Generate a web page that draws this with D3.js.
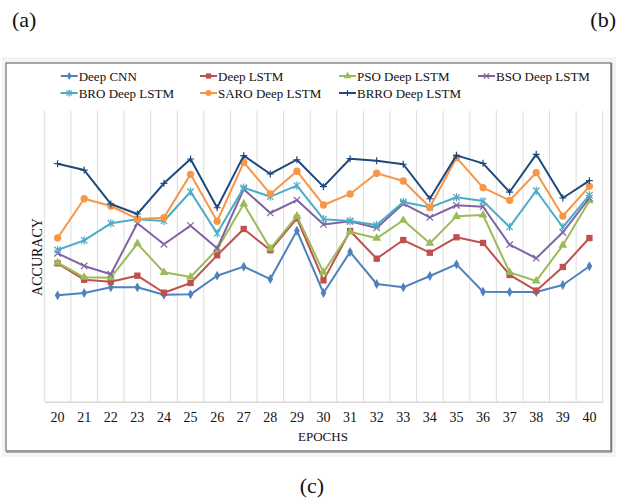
<!DOCTYPE html>
<html>
<head>
<meta charset="utf-8">
<script src="https://cdn.jsdelivr.net/npm/d3@7"></script>
<style>
  html, body { margin: 0; padding: 0; background: #fff; }
  svg { display: block; }
  text { font-family: "Liberation Serif", "Times New Roman", serif; fill: #111; }
</style>
</head>
<body>
<svg id="chart" width="617" height="502"></svg>
<script>
// Epoch categories along the x axis
const epochs = ["20","21","22","23","24","25","26","27","28","29","30",
                "31","32","33","34","35","36","37","38","39","40"];

// Accuracy (%) per epoch for each model
const deepCNN  = [87.31,87.47,87.86,87.86,87.35,87.38,88.66,89.28,88.43,91.75,87.47,
                  90.29,88.09,87.86,88.64,89.44,87.56,87.54,87.54,88.02,89.31];
const deepLSTM = [89.51,88.38,88.25,88.66,87.49,88.16,90.06,91.87,90.41,92.60,88.34,
                  91.73,89.83,91.11,90.24,91.30,90.91,88.71,87.63,89.26,91.25];
const psoLSTM  = [89.55,88.55,88.52,90.86,88.89,88.57,90.47,93.59,90.52,92.76,88.89,
                  91.68,91.23,92.47,90.89,92.74,92.83,88.89,88.30,90.75,93.81];
const bsoLSTM  = [90.20,89.33,88.76,92.26,90.82,92.10,90.54,94.60,92.97,93.86,92.18,
                  92.40,91.94,93.61,92.67,93.50,93.40,90.79,89.86,91.64,94.00];
const broLSTM  = [90.43,91.09,92.26,92.54,92.42,94.43,91.57,94.71,94.09,94.85,92.54,
                  92.42,92.14,93.73,93.36,94.05,93.79,92.01,94.50,91.99,94.19];
const saroLSTM = [91.25,93.95,93.45,92.56,92.65,95.63,92.40,96.45,94.28,95.84,93.52,
                  94.28,95.70,95.17,93.36,96.77,94.71,93.84,95.74,92.76,94.80];
const brroLSTM = [96.36,95.92,93.59,92.90,95.01,96.68,93.33,96.91,95.65,96.63,94.78,
                  96.70,96.56,96.32,93.95,96.93,96.38,94.41,97.00,94.00,95.19];

const seriesNames = ["Deep CNN","Deep LSTM","PSO Deep LSTM","BSO Deep LSTM",
                     "BRO Deep LSTM","SARO Deep LSTM","BRRO Deep LSTM"];
const seriesValues = [deepCNN, deepLSTM, psoLSTM, bsoLSTM, broLSTM, saroLSTM, brroLSTM];
const seriesColors = ["#4F81BD","#C0504D","#9BBB59","#8064A2","#4BACC6","#F79646","#1F497D"];
const seriesMarkers = ["diamond","square","triangle","times","asterisk","circle","plus"];

const svg = d3.select("#chart");

// Panel captions
svg.append("text").attr("x", 12).attr("y", 27).attr("font-size", 22).text("(a)");
svg.append("text").attr("x", 616).attr("y", 27).attr("font-size", 22)
   .attr("text-anchor", "end").text("(b)");
svg.append("text").attr("x", 312).attr("y", 493).attr("font-size", 22)
   .attr("text-anchor", "middle").text("(c)");

// Chart frame with a soft outer edge
svg.append("rect").attr("x", 2).attr("y", 57).attr("width", 614).attr("height", 400)
   .attr("fill", "#f4f4f4");
svg.append("rect").attr("x", 6).attr("y", 63).attr("width", 605).attr("height", 388)
   .attr("fill", "#fff").attr("stroke", "#555").attr("stroke-width", 1);
svg.append("line").attr("x1", 6).attr("x2", 612).attr("y1", 451.5).attr("y2", 451.5)
   .attr("stroke", "#999").attr("stroke-width", 2.5);
svg.append("line").attr("x1", 611.5).attr("x2", 611.5).attr("y1", 63).attr("y2", 452)
   .attr("stroke", "#777").attr("stroke-width", 1.5);

// Plot area
const plotLeft = 44.3, plotRight = 602.7, plotTop = 110.7, plotBottom = 401.7;
const x = d3.scaleBand().domain(epochs).range([plotLeft, plotRight]).padding(0);
const y = d3.scaleLinear().domain([80, 100]).range([plotBottom, plotTop]);

// Vertical gridlines at category boundaries
const gridG = svg.append("g");
const bounds = epochs.map(e => x(e)).concat([x(epochs[epochs.length - 1]) + x.bandwidth()]);
gridG.selectAll("line.grid").data(bounds).join("line")
  .attr("x1", d => d).attr("x2", d => d)
  .attr("y1", plotTop).attr("y2", plotBottom)
  .attr("stroke", "#dcdcdc").attr("stroke-width", 1);

// X axis
const xAxis = d3.axisBottom(x).tickSize(0).tickPadding(10);
const axG = svg.append("g").attr("transform", `translate(0,${plotBottom})`).call(xAxis);
axG.select(".domain").attr("stroke", "#d6d6d6").attr("stroke-width", 1.5);
axG.selectAll("text").attr("font-size", 14)
   .attr("font-family", "Liberation Serif, Times New Roman, serif").attr("fill", "#111");

// Axis titles
svg.append("text").attr("x", 323).attr("y", 441).attr("font-size", 13)
   .attr("text-anchor", "middle").text("EPOCHS");
svg.append("text").attr("transform", "translate(42,257) rotate(-90)")
   .attr("font-size", 14).attr("text-anchor", "middle").text("ACCURACY");

// Marker drawing
function drawMarker(g, type, color, scale) {
  const s = scale || 1;
  switch (type) {
    case "diamond":
      g.append("path").attr("d", d3.symbol().type(d3.symbolDiamond).size(28 * s)())
       .attr("fill", color);
      break;
    case "square":
      g.append("path").attr("d", d3.symbol().type(d3.symbolSquare).size(40 * s)())
       .attr("fill", color);
      break;
    case "triangle":
      g.append("path").attr("d", d3.symbol().type(d3.symbolTriangle).size(34 * s)())
       .attr("fill", color);
      break;
    case "circle":
      g.append("path").attr("d", d3.symbol().type(d3.symbolCircle).size(42 * s)())
       .attr("fill", color);
      break;
    case "times": {
      const r = 3.2 * Math.sqrt(s);
      g.append("path").attr("d", `M${-r},${-r}L${r},${r}M${-r},${r}L${r},${-r}`)
       .attr("stroke", color).attr("stroke-width", 1.2).attr("fill", "none");
      break;
    }
    case "asterisk": {
      const r = 3.2 * Math.sqrt(s);
      g.append("path").attr("d", `M${-r},${-r}L${r},${r}M${-r},${r}L${r},${-r}M0,${-r * 1.3}L0,${r * 1.3}`)
       .attr("stroke", color).attr("stroke-width", 1.2).attr("fill", "none");
      break;
    }
    case "plus": {
      const r = 3.5 * Math.sqrt(s);
      g.append("path").attr("d", `M${-r},0L${r},0M0,${-r}L0,${r}`)
       .attr("stroke", color).attr("stroke-width", 1.2).attr("fill", "none");
      break;
    }
  }
}

// Series lines and markers
const line = d3.line()
  .x((d, i) => x(epochs[i]) + x.bandwidth() / 2)
  .y(d => y(d));

seriesValues.forEach((vals, si) => {
  const color = seriesColors[si];
  const g = svg.append("g");
  g.append("path").datum(vals).attr("d", line)
   .attr("fill", "none").attr("stroke", color).attr("stroke-width", 2)
   .attr("stroke-linejoin", "round");
  vals.forEach((v, i) => {
    const mg = g.append("g")
      .attr("transform", `translate(${x(epochs[i]) + x.bandwidth() / 2},${y(v)})`);
    drawMarker(mg, seriesMarkers[si], color, 1);
  });
});

// Legend
const legendCols = [60.7, 200, 339, 478];
const legendRows = [76, 93];
seriesNames.forEach((name, i) => {
  const lx = legendCols[i % 4], ly = legendRows[Math.floor(i / 4)];
  const g = svg.append("g").attr("transform", `translate(${lx},${ly})`);
  g.append("line").attr("x1", 0).attr("x2", 17).attr("y1", 0).attr("y2", 0)
   .attr("stroke", seriesColors[i]).attr("stroke-width", 2);
  const mg = g.append("g").attr("transform", "translate(8.5,0)");
  drawMarker(mg, seriesMarkers[i], seriesColors[i], 0.7);
  g.append("text").attr("x", 18).attr("y", 4.5).attr("font-size", 13).text(name);
});
</script>
</body>
</html>
